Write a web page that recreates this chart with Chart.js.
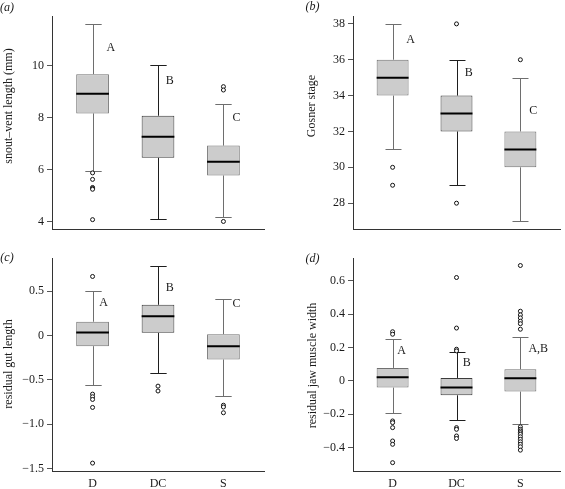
<!DOCTYPE html>
<html>
<head>
<meta charset="utf-8">
<script src="https://cdn.jsdelivr.net/npm/chart.js@4/dist/chart.umd.min.js"></script>
<style>
  body { margin: 0; background: #fff; }
  #fig { position: relative; width: 565px; height: 489px; }
  .panel { position: absolute; }
  canvas { display: block; }
</style>
</head>
<body>
<div id="fig">
  <div class="panel" style="left:0;top:0"><canvas id="chartA" width="280" height="235"></canvas></div>
  <div class="panel" style="left:280px;top:0"><canvas id="chartB" width="285" height="235"></canvas></div>
  <div class="panel" style="left:0;top:235px"><canvas id="chartC" width="280" height="254"></canvas></div>
  <div class="panel" style="left:280px;top:235px"><canvas id="chartD" width="285" height="254"></canvas></div>
</div>
<script>
// groups on the x axis
const groups = ['D', 'DC', 'S'];

// each box: [lower whisker, Q1, median, Q3, upper whisker]
const svlBoxes = [[5.95, 8.17, 8.93, 9.68, 11.62], [4.12, 6.46, 7.27, 8.08, 10.02], [4.18, 5.78, 6.31, 6.93, 8.55]];
const svlOutliers = [[5.88, 5.63, 5.32, 5.28, 5.25, 4.08], [], [9.2, 9.07, 4.01]];
const svlLetters = ['A', 'B', 'C'];
const svlLetterAt = [[1.28, 10.69], [2.18, 9.42], [3.2, 8.0]];
const svlTicks = [4, 6, 8, 10];

const gosnerBoxes = [[31, 34, 35, 36, 38], [29, 32, 33, 34, 36], [27, 30, 31, 32, 35]];
const gosnerOutliers = [[30, 29], [38, 28], [36]];
const gosnerLetters = ['A', 'B', 'C'];
const gosnerLetterAt = [[1.28, 37.1], [2.19, 35.26], [3.2, 33.17]];
const gosnerTicks = [28, 30, 32, 34, 36, 38];

const gutBoxes = [[-0.555, -0.12, 0.034, 0.155, 0.505], [-0.418, 0.03, 0.218, 0.346, 0.784], [-0.68, -0.27, -0.12, 0.015, 0.413]];
const gutOutliers = [[0.665, -0.66, -0.69, -0.72, -0.81, -1.437], [-0.57, -0.625], [-0.785, -0.805, -0.87]];
const gutLetters = ['A', 'B', 'C'];
const gutLetterAt = [[1.17, 0.365], [2.18, 0.541], [3.2, 0.36]];
const gutTicks = [-1.5, -1.0, -0.5, 0, 0.5];

const jawBoxes = [[-0.195, -0.04, 0.022, 0.078, 0.252], [-0.232, -0.086, -0.04, 0.018, 0.174], [-0.26, -0.064, 0.016, 0.07, 0.265]];
const jawOutliers = [
  [0.295, 0.28, -0.24, -0.25, -0.28, -0.36, -0.38, -0.49],
  [0.62, 0.317, 0.19, 0.18, -0.28, -0.29, -0.33, -0.345],
  [0.692, 0.418, 0.396, 0.378, 0.358, 0.343, 0.31, -0.275, -0.29, -0.3, -0.31, -0.32, -0.335, -0.35, -0.365, -0.38, -0.395, -0.415]
];
const jawLetters = ['A', 'B', 'A,B'];
const jawLetterAt = [[1.14, 0.178], [2.16, 0.106], [3.28, 0.193]];
const jawTicks = [-0.4, -0.2, 0, 0.2, 0.4, 0.6];

const SERIF = '"Liberation Serif", "Times New Roman", Times, serif';
const TEXT = '#1a1a1a';
const boxBorders = ['#717171', '#3c3c3c', '#717171'];
const whiskerColors = ['#6e6e6e', '#1e1e1e', '#6e6e6e'];

function minus(s) {
  return s.replace('-', '\u2212');
}

const boxPlotPlugin = {
  id: 'boxPlot',
  beforeDatasetsDraw(chart, args, opts) {
    const ctx = chart.ctx;
    const xs = chart.scales.x, ys = chart.scales.y;
    const bars = chart.getDatasetMeta(0).data;
    opts.boxes.forEach((b, i) => {
      const cx = Math.round(xs.getPixelForValue(i + 1)) + 0.5;
      const half = bars[i].width / 4;
      const yLo = Math.round(ys.getPixelForValue(b[0])) + 0.5;
      const yHi = Math.round(ys.getPixelForValue(b[4])) + 0.5;
      ctx.save();
      ctx.strokeStyle = whiskerColors[i];
      ctx.lineWidth = 1;
      ctx.beginPath();
      ctx.moveTo(cx, ys.getPixelForValue(b[3]));
      ctx.lineTo(cx, yHi);
      ctx.moveTo(cx - half, yHi);
      ctx.lineTo(cx + half, yHi);
      ctx.moveTo(cx, ys.getPixelForValue(b[1]));
      ctx.lineTo(cx, yLo);
      ctx.moveTo(cx - half, yLo);
      ctx.lineTo(cx + half, yLo);
      ctx.stroke();
      ctx.restore();
    });
  },
  afterDatasetsDraw(chart, args, opts) {
    const ctx = chart.ctx;
    const xs = chart.scales.x, ys = chart.scales.y;
    const bars = chart.getDatasetMeta(0).data;
    ctx.save();
    opts.boxes.forEach((b, i) => {
      const bar = bars[i];
      const ym = ys.getPixelForValue(b[2]);
      ctx.strokeStyle = '#000';
      ctx.lineWidth = 2;
      ctx.beginPath();
      ctx.moveTo(bar.x - bar.width / 2, ym);
      ctx.lineTo(bar.x + bar.width / 2, ym);
      ctx.stroke();
    });
    ctx.fillStyle = TEXT;
    ctx.font = '12px ' + SERIF;
    ctx.textAlign = 'center';
    ctx.textBaseline = 'middle';
    opts.letters.forEach((t, i) => {
      const p = opts.letterAt[i];
      ctx.fillText(t, xs.getPixelForValue(p[0]), ys.getPixelForValue(p[1]));
    });
    ctx.restore();
  },
  afterDraw(chart, args, opts) {
    const ctx = chart.ctx;
    ctx.save();
    ctx.fillStyle = TEXT;
    ctx.textAlign = 'center';
    ctx.textBaseline = 'middle';
    ctx.font = 'italic 12px ' + SERIF;
    ctx.fillText(opts.panel, opts.panelPos[0], opts.panelPos[1]);
    ctx.font = '12px ' + SERIF;
    ctx.translate(opts.titlePos[0], opts.titlePos[1]);
    ctx.rotate(-Math.PI / 2);
    ctx.fillText(opts.title, 0, 0);
    ctx.restore();
  }
};

function makePanel(id, cfg) {
  const outlierPoints = [];
  cfg.outliers.forEach((list, i) => {
    list.forEach(v => outlierPoints.push({ x: i + 1, y: v }));
  });

  new Chart(document.getElementById(id).getContext('2d'), {
    type: 'bar',
    data: {
      datasets: [
        {
          type: 'bar',
          data: cfg.boxes.map((b, i) => ({ x: i + 1, y: [b[1], b[3]] })),
          backgroundColor: '#cccccc',
          borderColor: boxBorders,
          borderWidth: 1,
          borderSkipped: false,
          barPercentage: 0.5,
          categoryPercentage: 1.0,
        },
        {
          type: 'scatter',
          data: outlierPoints,
          pointStyle: 'circle',
          pointRadius: 2,
          borderWidth: 1,
          borderColor: '#111',
          backgroundColor: '#fff',
        },
      ],
    },
    options: {
      responsive: false,
      animation: false,
      devicePixelRatio: 1,
      layout: { padding: cfg.padding },
      plugins: {
        legend: { display: false },
        tooltip: { enabled: false },
        boxPlot: {
          boxes: cfg.boxes,
          letters: cfg.letters,
          letterAt: cfg.letterAt,
          panel: cfg.panel,
          panelPos: cfg.panelPos,
          title: cfg.title,
          titlePos: cfg.titlePos,
        },
      },
      scales: {
        x: {
          type: 'linear',
          min: 0.38,
          max: 3.62,
          offset: false,
          grid: { display: false, drawTicks: false },
          border: { display: true, color: '#333', width: 1 },
          ticks: {
            display: cfg.showX,
            padding: 6,
            color: TEXT,
            font: { family: SERIF, size: 12 },
            callback: v => groups[v - 1] || '',
          },
          afterBuildTicks: scale => {
            scale.ticks = [1, 2, 3].map(v => ({ value: v }));
          },
          afterFit: scale => {
            scale.height = cfg.xHeight;
            scale.paddingLeft = 0;
            scale.paddingRight = 0;
          },
        },
        y: {
          type: 'linear',
          min: cfg.yMin,
          max: cfg.yMax,
          grid: {
            display: true,
            drawOnChartArea: false,
            drawTicks: true,
            tickLength: 5,
            color: '#555',
          },
          border: { display: true, color: '#333', width: 1 },
          ticks: {
            padding: 3,
            color: TEXT,
            font: { family: SERIF, size: 12 },
            callback: cfg.fmt,
          },
          afterBuildTicks: scale => {
            scale.ticks = cfg.ticks.map(v => ({ value: v }));
          },
          afterFit: scale => {
            scale.width = cfg.yWidth;
            scale.paddingTop = 0;
            scale.paddingBottom = 0;
          },
        },
      },
    },
    plugins: [boxPlotPlugin],
  });
}

const intFmt = v => String(v);
const decFmt = v => (v === 0 ? '0' : minus(v.toFixed(1)));

makePanel('chartA', {
  boxes: svlBoxes, outliers: svlOutliers, letters: svlLetters, letterAt: svlLetterAt,
  ticks: svlTicks, yMin: 3.72, yMax: 11.92, fmt: intFmt,
  showX: false, xHeight: 6, yWidth: 52,
  padding: { left: 0, top: 16, right: 16, bottom: 0 },
  panel: '(a)', panelPos: [7, 7.5],
  title: 'snout\u2013vent length (mm)', titlePos: [9, 106],
});

makePanel('chartB', {
  boxes: gosnerBoxes, outliers: gosnerOutliers, letters: gosnerLetters, letterAt: gosnerLetterAt,
  ticks: gosnerTicks, yMin: 26.56, yMax: 38.44, fmt: intFmt,
  showX: false, xHeight: 6, yWidth: 73,
  padding: { left: 0, top: 16, right: 0, bottom: 0 },
  panel: '(b)', panelPos: [32.5, 6.5],
  title: 'Gosner stage', titlePos: [32, 106],
});

makePanel('chartC', {
  boxes: gutBoxes, outliers: gutOutliers, letters: gutLetters, letterAt: gutLetterAt,
  ticks: gutTicks, yMin: -1.526, yMax: 0.873, fmt: decFmt,
  showX: true, xHeight: 18, yWidth: 52,
  padding: { left: 0, top: 23, right: 16, bottom: 0 },
  panel: '(c)', panelPos: [7, 22.5],
  title: 'residual gut length', titlePos: [9, 129],
});

makePanel('chartD', {
  boxes: jawBoxes, outliers: jawOutliers, letters: jawLetters, letterAt: jawLetterAt,
  ticks: jawTicks, yMin: -0.54, yMax: 0.737, fmt: decFmt,
  showX: true, xHeight: 18, yWidth: 73,
  padding: { left: 0, top: 23, right: 0, bottom: 0 },
  panel: '(d)', panelPos: [32.5, 24],
  title: 'residual jaw muscle width', titlePos: [32.5, 130.5],
});
</script>
</body>
</html>
